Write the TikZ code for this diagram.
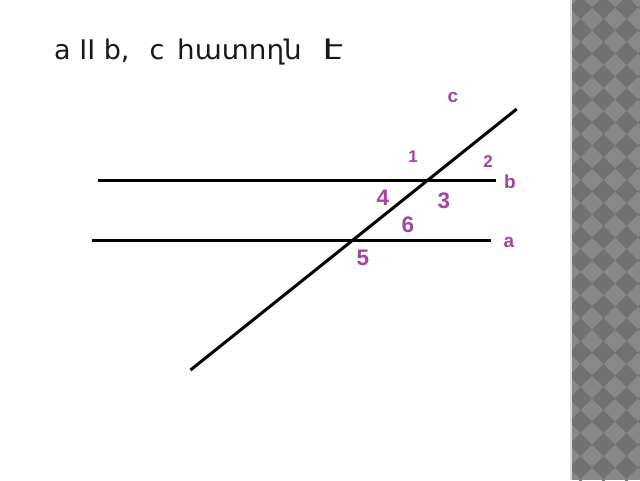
\documentclass[tikz,border=0pt]{standalone}
\usepackage{fontspec}
\setmainfont{Liberation Sans}
\newfontfamily\armfont{DejaVu Sans}
\definecolor{lbl}{RGB}{163,68,160}
\definecolor{stripdark}{RGB}{113,113,113}
\definecolor{striplight}{RGB}{136,136,136}
\begin{document}
\begin{tikzpicture}[x=1pt,y=-1pt,
  geoline/.style={line width=3pt, black},
  smalllbl/.style={text=lbl, inner sep=0pt, font=\bfseries\fontsize{17}{17}\selectfont},
  letterlbl/.style={text=lbl, inner sep=0pt, font=\bfseries\fontsize{19}{19}\selectfont},
  biglbl/.style={text=lbl, inner sep=0pt, font=\bfseries\fontsize{22.5}{22.5}\selectfont}]
\useasboundingbox (0,0) rectangle (640,480);
\fill[white] (0,0) rectangle (640,480);
% decorative strip
\fill[striplight] (570,0) rectangle (640,480);
\begin{scope}
\clip (572,0) rectangle (640,480);
\foreach \i in {-1,...,3} {
  \foreach \j in {-1,...,21} {
    \fill[stripdark] ({569+23*\i},{7.5+23*\j}) -- ++(11.5,-11.5) -- ++(11.5,11.5) -- ++(-11.5,11.5) -- cycle;
  }
}
\end{scope}
\fill[gray!30] (570,0) rectangle (572,480);
% title
\node[anchor=base west, inner sep=0pt, font=\armfont\fontsize{27}{27}\selectfont, text=black!90] (title) at (54,59)
  {a II b,\ \ \hspace{3pt}c\ \hspace{4pt}\scalebox{1.03}[1]{հատողն}\ \hspace{12pt}\scalebox{1.5}[1]{է}};
% lines
\coordinate (b1) at (98,180);
\coordinate (b2) at (496,180);
\coordinate (a1) at (92,240);
\coordinate (a2) at (491,240);
\coordinate (c1) at (190.5,370);
\coordinate (c2) at (516.75,109);
\draw[geoline] (b1) -- (b2);
\draw[geoline] (a1) -- (a2);
\draw[geoline] (c1) -- (c2);
% labels
\node[letterlbl] (lc) at (453,97) {c};
\node[smalllbl] (l1) at (413,157) {1};
\node[smalllbl] (l2) at (488,162) {2};
\node[letterlbl] (lb) at (510,182) {b};
\node[letterlbl] (la) at (509,242) {a};
\node[biglbl] (l4) at (383,198) {4};
\node[biglbl] (l3) at (444,201) {3};
\node[biglbl] (l6) at (408,225) {6};
\node[biglbl] (l5) at (363,258) {5};
\end{tikzpicture}
\end{document}
